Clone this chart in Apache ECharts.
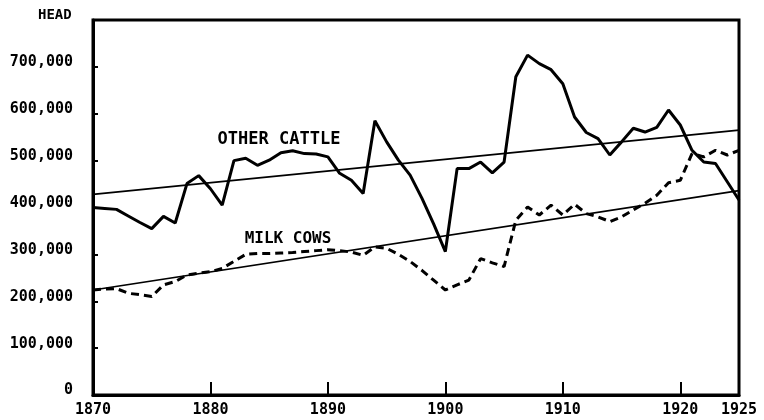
<!DOCTYPE html>
<html>
<head>
<meta charset="utf-8">
<script src="https://cdn.jsdelivr.net/npm/echarts@6/dist/echarts.min.js"></script>
<style>html,body{margin:0;padding:0;background:#fff;}#c{width:764px;height:420px;}</style>
</head>
<body>
<div id="c"></div>
<script>
const years = [];
for (let y = 1870; y <= 1925; y++) years.push(y);

const otherCattle = [400000,398000,396000,382000,368000,355000,381000,367000,451000,468000,
  440000,405000,500000,505000,490000,501000,517000,521000,515000,514000,
  508000,473000,458000,430000,585000,540000,501000,469000,420000,365000,
  306000,483000,483000,497000,474000,497000,679000,725000,707000,694000,
  664000,593000,560000,547000,512000,540000,569000,561000,571000,608000,
  576000,522000,497000,494000,455000,416000];

const milkCows = [224000,226000,227000,217000,214000,210000,235000,242000,256000,260000,
  263000,270000,285000,300000,302000,302000,303000,304000,306000,308000,
  310000,308000,305000,298000,316000,313000,300000,285000,266000,245000,
  224000,235000,245000,291000,282000,274000,373000,401000,384000,405000,
  384000,407000,387000,380000,370000,380000,395000,409000,426000,453000,
  458000,515000,508000,522000,512000,522000];

const trendYears = [1870, 1925];
const trendOther = [428000, 565000];
const trendMilk = [224000, 436000];

const xLabelValues = [1870, 1880, 1890, 1900, 1910, 1920, 1925];
const xTickValues = [1880, 1890, 1900, 1910, 1920];

const font = '"DejaVu Sans Mono", monospace';

const chart = echarts.init(document.getElementById('c'), null, {renderer: 'canvas'});
const pair = (xs, ys) => xs.map((x, i) => [x, ys[i]]);

chart.setOption({
  animation: false,
  backgroundColor: '#fff',
  grid: {left: 93, right: 25, top: 20, bottom: 25, show: true, borderColor: '#000', borderWidth: 3, backgroundColor: 'transparent'},
  xAxis: {
    type: 'value', min: 1870, max: 1925,
    axisLine: {show: true, lineStyle: {color: '#000', width: 3}},
    axisTick: {show: true, inside: true, length: 13, customValues: xTickValues, lineStyle: {color: '#000', width: 2}},
    axisLabel: {customValues: xLabelValues, color: '#000', fontFamily: font, fontWeight: 'bold', fontSize: 15, margin: 8, formatter: v => String(v)},
    splitLine: {show: false}
  },
  yAxis: {
    type: 'value', min: 0, max: 800000, interval: 100000,
    axisLine: {show: true, lineStyle: {color: '#000', width: 3}},
    axisTick: {show: true, inside: true, length: 5, lineStyle: {color: '#000', width: 2}},
    axisLabel: {showMaxLabel: false, color: '#000', fontFamily: font, fontWeight: 'bold', fontSize: 15, margin: 20,
      verticalAlign: 'bottom', lineHeight: 9,
      formatter: v => v === 0 ? '0' : v.toLocaleString('en-US')},
    splitLine: {show: false}
  },
  graphic: [
    {type: 'text', left: 38, top: 8, style: {text: 'HEAD', font: 'bold 14px ' + font, fill: '#000'}},
    {type: 'text', x: 279, y: 140, style: {text: 'OTHER CATTLE', font: 'bold 17px ' + font, fill: '#000', align: 'center', verticalAlign: 'middle'}},
    {type: 'text', x: 288, y: 239, style: {text: 'MILK COWS', font: 'bold 16px ' + font, fill: '#000', align: 'center', verticalAlign: 'middle'}}
  ],
  series: [
    {type: 'line', name: 'Other cattle trend', data: pair(trendYears, trendOther), symbol: 'none', lineStyle: {color: '#000', width: 1.6}},
    {type: 'line', name: 'Milk cows trend', data: pair(trendYears, trendMilk), symbol: 'none', lineStyle: {color: '#000', width: 1.6}},
    {type: 'line', name: 'Other cattle', data: pair(years, otherCattle), symbol: 'none', lineStyle: {color: '#000', width: 3}},
    {type: 'line', name: 'Milk cows', data: pair(years, milkCows), symbol: 'none', lineStyle: {color: '#000', width: 3, type: [8, 5]}}
  ]
});
</script>
</body>
</html>
